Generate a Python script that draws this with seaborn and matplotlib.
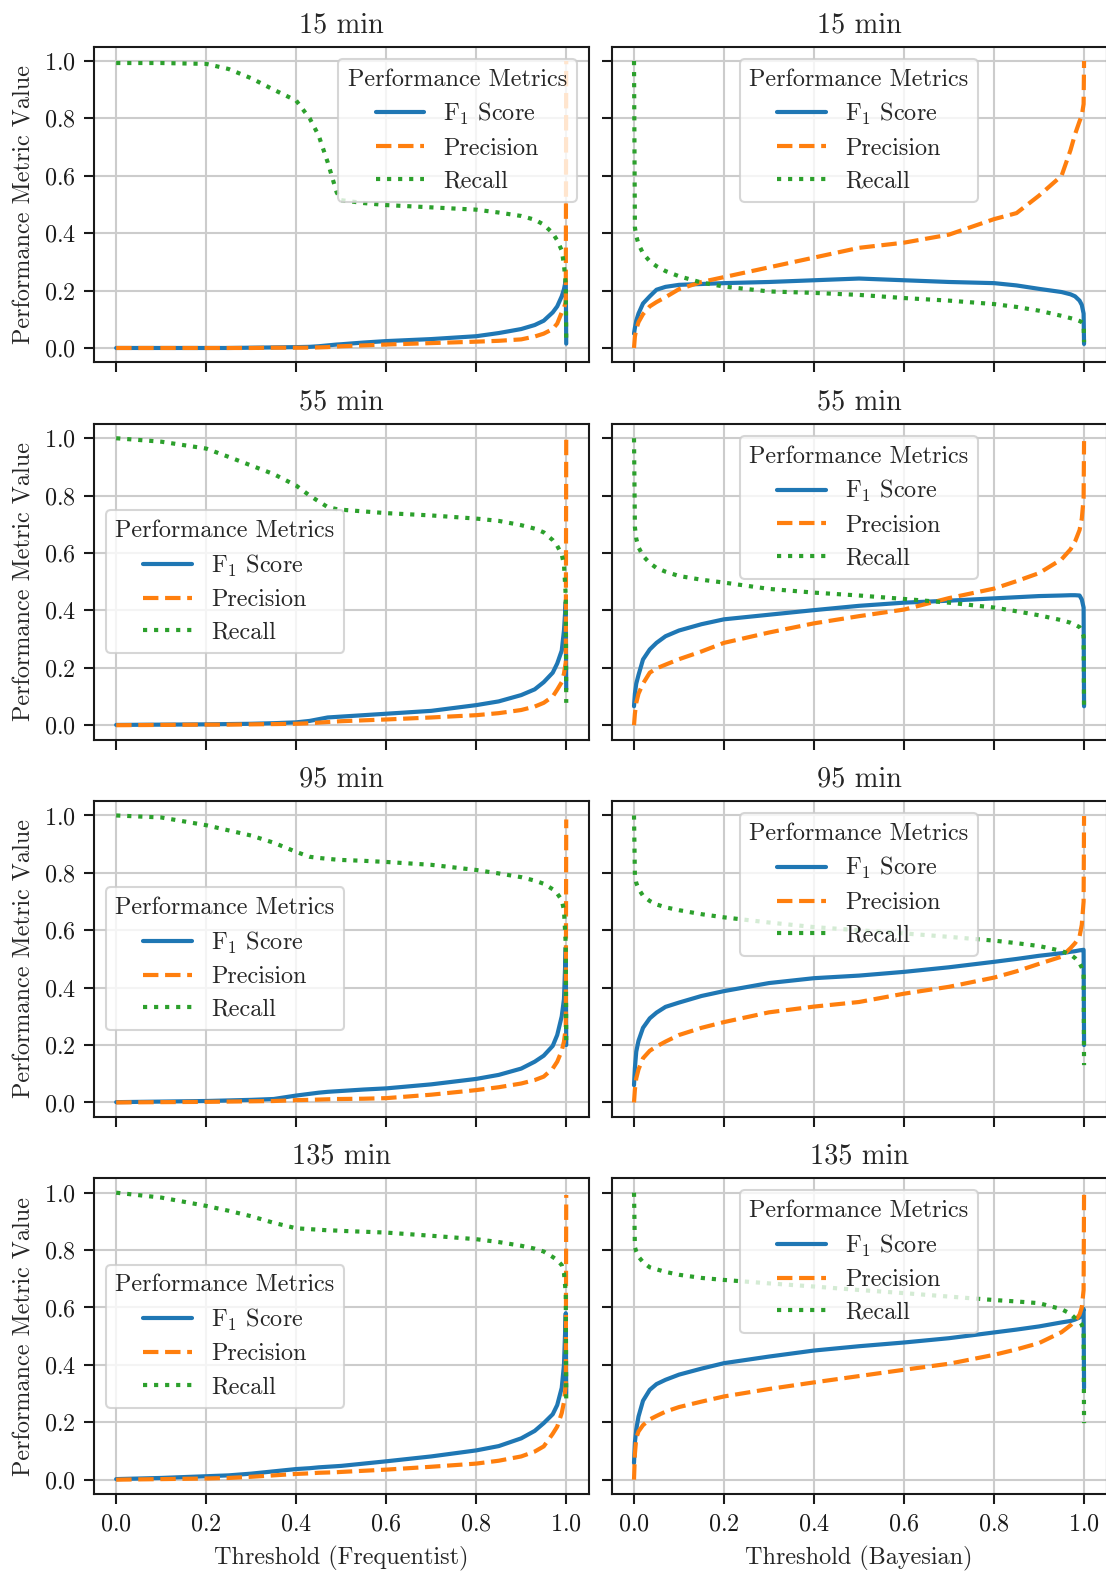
import matplotlib
matplotlib.use("Agg")
import matplotlib.pyplot as plt
import seaborn as sns

# ─────────────────────────────────────────────
#  DATA
# ─────────────────────────────────────────────

HORIZONS = ["15 min", "55 min", "95 min", "135 min"]
METRICS = ["F$_1$ Score", "Precision", "Recall"]

FREQ_THR = [0.0, 0.1, 0.2, 0.25, 0.3, 0.35, 0.4, 0.43, 0.45, 0.47, 0.49, 0.5, 0.55,
            0.6, 0.7, 0.8, 0.85, 0.9, 0.93, 0.95, 0.97, 0.98, 0.99, 0.995, 0.999, 1.0]
BAYES_THR = [0.0, 0.002, 0.005, 0.01, 0.02, 0.035, 0.05, 0.07, 0.1, 0.15, 0.2, 0.3, 0.4,
             0.5, 0.6, 0.7, 0.8, 0.85, 0.9, 0.95, 0.97, 0.98, 0.99, 0.995, 0.999, 1.0]

# one row per horizon (15, 55, 95, 135 min)
FREQ_F1 = [
    [0.0, 0.0, 0.0, 0.0, 0.001, 0.002, 0.003, 0.004, 0.006, 0.009, 0.012, 0.013, 0.019,
     0.024, 0.031, 0.041, 0.052, 0.066, 0.08, 0.095, 0.124, 0.145, 0.18, 0.205, 0.235, 0.015],
    [0.001, 0.002, 0.003, 0.004, 0.005, 0.007, 0.01, 0.015, 0.021, 0.027, 0.029, 0.03, 0.035,
     0.04, 0.05, 0.07, 0.083, 0.105, 0.125, 0.15, 0.183, 0.215, 0.26, 0.33, 0.43, 0.125],
    [0.001, 0.003, 0.005, 0.007, 0.009, 0.012, 0.024, 0.03, 0.034, 0.037, 0.039, 0.04, 0.045,
     0.049, 0.063, 0.082, 0.096, 0.118, 0.142, 0.163, 0.197, 0.235, 0.3, 0.36, 0.54, 0.2],
    [0.002, 0.006, 0.012, 0.015, 0.021, 0.029, 0.037, 0.04, 0.043, 0.045, 0.047, 0.048, 0.056,
     0.064, 0.081, 0.102, 0.117, 0.144, 0.17, 0.197, 0.228, 0.26, 0.32, 0.4, 0.58, 0.3],
]
FREQ_PREC = [
    [0.0, 0.0, 0.0, 0.0, 0.0, 0.001, 0.001, 0.001, 0.002, 0.003, 0.005, 0.006, 0.009,
     0.012, 0.017, 0.022, 0.025, 0.03, 0.04, 0.05, 0.066, 0.085, 0.124, 0.14, 0.16, 1.0],
    [0.0, 0.001, 0.002, 0.002, 0.003, 0.004, 0.005, 0.007, 0.009, 0.011, 0.013, 0.014, 0.017,
     0.02, 0.027, 0.035, 0.042, 0.053, 0.065, 0.078, 0.1, 0.124, 0.15, 0.18, 0.22, 1.0],
    [0.0, 0.001, 0.002, 0.003, 0.004, 0.005, 0.008, 0.009, 0.01, 0.011, 0.012, 0.012, 0.013,
     0.015, 0.027, 0.043, 0.053, 0.066, 0.078, 0.09, 0.118, 0.142, 0.18, 0.212, 0.26, 0.986],
    [0.0, 0.002, 0.004, 0.006, 0.01, 0.015, 0.02, 0.022, 0.024, 0.025, 0.026, 0.027, 0.031,
     0.035, 0.045, 0.056, 0.066, 0.081, 0.098, 0.116, 0.16, 0.185, 0.232, 0.27, 0.33, 0.992],
]
FREQ_REC = [
    [0.993, 0.993, 0.99, 0.972, 0.94, 0.9, 0.862, 0.8, 0.74, 0.647, 0.542, 0.515, 0.505,
     0.498, 0.49, 0.482, 0.472, 0.46, 0.447, 0.43, 0.4, 0.375, 0.34, 0.29, 0.22, 0.02],
    [1.0, 0.988, 0.964, 0.935, 0.905, 0.875, 0.835, 0.8, 0.78, 0.76, 0.753, 0.751, 0.745,
     0.739, 0.731, 0.72, 0.712, 0.697, 0.685, 0.672, 0.645, 0.625, 0.595, 0.56, 0.45, 0.078],
    [1.0, 0.993, 0.966, 0.948, 0.93, 0.905, 0.873, 0.856, 0.852, 0.849, 0.846, 0.845, 0.842,
     0.838, 0.828, 0.81, 0.798, 0.785, 0.773, 0.762, 0.743, 0.728, 0.705, 0.67, 0.55, 0.212],
    [1.0, 0.983, 0.954, 0.937, 0.918, 0.895, 0.876, 0.873, 0.871, 0.869, 0.868, 0.867, 0.864,
     0.861, 0.85, 0.838, 0.828, 0.815, 0.805, 0.795, 0.776, 0.765, 0.748, 0.72, 0.65, 0.267],
]

BAYES_F1 = [
    [0.05, 0.07, 0.095, 0.12, 0.155, 0.18, 0.203, 0.213, 0.22, 0.223, 0.226, 0.23, 0.236,
     0.242, 0.236, 0.23, 0.226, 0.218, 0.206, 0.195, 0.187, 0.18, 0.165, 0.15, 0.12, 0.014],
    [0.066, 0.11, 0.145, 0.175, 0.229, 0.264, 0.287, 0.31, 0.33, 0.352, 0.369, 0.385, 0.401,
     0.416, 0.427, 0.434, 0.442, 0.446, 0.45, 0.452, 0.453, 0.453, 0.452, 0.438, 0.41, 0.066],
    [0.06, 0.12, 0.177, 0.215, 0.26, 0.293, 0.313, 0.333, 0.348, 0.371, 0.388, 0.416, 0.433,
     0.442, 0.455, 0.471, 0.49, 0.5, 0.511, 0.52, 0.525, 0.527, 0.53, 0.531, 0.532, 0.2],
    [0.058, 0.13, 0.175, 0.22, 0.275, 0.313, 0.333, 0.348, 0.366, 0.387, 0.406, 0.429, 0.45,
     0.465, 0.478, 0.493, 0.513, 0.523, 0.534, 0.548, 0.553, 0.558, 0.565, 0.575, 0.595, 0.319],
]
BAYES_PREC = [
    [0.0, 0.04, 0.065, 0.09, 0.118, 0.145, 0.16, 0.177, 0.205, 0.23, 0.247, 0.281, 0.315,
     0.349, 0.367, 0.395, 0.449, 0.47, 0.531, 0.6, 0.69, 0.745, 0.79, 0.81, 0.85, 1.0],
    [0.0, 0.04, 0.078, 0.11, 0.145, 0.183, 0.198, 0.211, 0.23, 0.257, 0.287, 0.323, 0.355,
     0.38, 0.403, 0.443, 0.476, 0.502, 0.53, 0.578, 0.613, 0.64, 0.68, 0.72, 0.79, 0.99],
    [0.0, 0.045, 0.084, 0.115, 0.154, 0.18, 0.195, 0.212, 0.235, 0.26, 0.28, 0.314, 0.334,
     0.35, 0.379, 0.403, 0.435, 0.457, 0.483, 0.508, 0.538, 0.555, 0.578, 0.619, 0.7, 0.998],
    [0.0, 0.09, 0.145, 0.168, 0.19, 0.21, 0.222, 0.237, 0.253, 0.272, 0.29, 0.316, 0.339,
     0.361, 0.383, 0.404, 0.435, 0.454, 0.476, 0.514, 0.538, 0.553, 0.575, 0.6, 0.661, 1.0],
]
BAYES_REC = [
    [1.0, 0.42, 0.39, 0.362, 0.33, 0.302, 0.285, 0.268, 0.25, 0.228, 0.214, 0.197, 0.192,
     0.185, 0.174, 0.165, 0.153, 0.143, 0.13, 0.112, 0.104, 0.1, 0.094, 0.09, 0.085, 0.02],
    [1.0, 0.69, 0.65, 0.62, 0.59, 0.565, 0.548, 0.535, 0.52, 0.507, 0.497, 0.475, 0.462,
     0.452, 0.44, 0.427, 0.41, 0.397, 0.383, 0.366, 0.357, 0.35, 0.342, 0.33, 0.31, 0.049],
    [1.0, 0.79, 0.765, 0.745, 0.72, 0.702, 0.69, 0.68, 0.67, 0.656, 0.645, 0.627, 0.611,
     0.6, 0.589, 0.577, 0.564, 0.555, 0.545, 0.528, 0.515, 0.503, 0.485, 0.47, 0.45, 0.13],
    [1.0, 0.81, 0.795, 0.777, 0.758, 0.74, 0.733, 0.724, 0.714, 0.703, 0.696, 0.684, 0.673,
     0.661, 0.65, 0.638, 0.626, 0.621, 0.615, 0.594, 0.578, 0.563, 0.55, 0.54, 0.52, 0.197],
]

COLORS = ["#1f77b4", "#ff7f0e", "#2ca02c"]
STYLES = ["-", "--", ":"]
TICKS = [0.0, 0.2, 0.4, 0.6, 0.8, 1.0]

# ─────────────────────────────────────────────
#  STYLE
# ─────────────────────────────────────────────

sns.set_theme(style="ticks", rc={"axes.grid": True})
BASE = 11.6
plt.rcParams.update({
    "font.family": "serif",
    "font.serif": ["cmr10"],
    "mathtext.fontset": "cm",
    "axes.formatter.use_mathtext": True,
    "axes.unicode_minus": False,
    "font.size": BASE,
    "axes.labelsize": BASE,
    "axes.titlesize": 13.6,
    "xtick.labelsize": BASE,
    "ytick.labelsize": BASE,
    "legend.fontsize": BASE,
    "legend.title_fontsize": BASE,
    "axes.edgecolor": "0.1",
    "axes.linewidth": 1.0,
    "grid.color": "0.8",
    "grid.linewidth": 1.0,
    "xtick.major.size": 5,
    "ytick.major.size": 5,
    "xtick.major.width": 1.0,
    "ytick.major.width": 1.0,
    "xtick.major.pad": 4.5,
    "xtick.color": "0.1",
    "ytick.color": "0.1",
})


def draw_panel(ax, thr, f1, prec, rec, title, loc):
    for name, vals, color, ls in zip(METRICS, [f1, prec, rec], COLORS, STYLES):
        sns.lineplot(x=thr, y=vals, ax=ax, color=color, linestyle=ls,
                     linewidth=2.0, label=name, estimator=None, sort=False)
    ax.set_xlim(-0.05, 1.05)
    ax.set_ylim(-0.05, 1.05)
    ax.set_xticks(TICKS)
    ax.set_yticks(TICKS)
    ax.set_title(title, pad=7)
    ax.legend(title="Performance Metrics", loc=loc, framealpha=0.8,
              edgecolor="0.8", borderaxespad=0.5, labelspacing=0.43)


# ─────────────────────────────────────────────
#  FIGURE
# ─────────────────────────────────────────────

fig, axes = plt.subplots(4, 2, figsize=(1106 / 150, 1571 / 150), sharex=True, sharey=True)
fig.subplots_adjust(left=0.0847, right=1.0005, top=0.9703, bottom=0.049,
                    wspace=0.046, hspace=0.195)

for i, horizon in enumerate(HORIZONS):
    left_loc = "upper right" if i == 0 else "center left"
    draw_panel(axes[i, 0], FREQ_THR, FREQ_F1[i], FREQ_PREC[i], FREQ_REC[i], horizon, left_loc)
    draw_panel(axes[i, 1], BAYES_THR, BAYES_F1[i], BAYES_PREC[i], BAYES_REC[i], horizon,
               "upper center")
    axes[i, 0].set_ylabel("Performance Metric Value")

axes[3, 0].set_xlabel("Threshold (Frequentist)", labelpad=5)
axes[3, 1].set_xlabel("Threshold (Bayesian)", labelpad=5)

fig.savefig("out.png", dpi=150)
plt.close(fig)
